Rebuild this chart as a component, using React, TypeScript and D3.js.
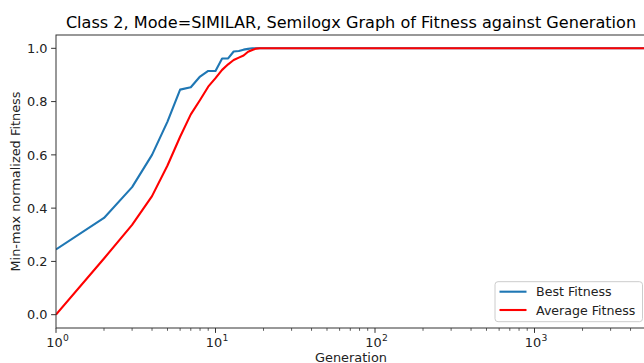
import React from "react";
import * as d3 from "d3";

// Generations sampled from the run (fitness is flat at 1.0 after gen 19 up to 5000)
const generations = [1, 2, 3, 4, 5, 6, 7, 8, 9, 10, 11, 12, 13, 14, 15, 16, 17, 18, 19, 20, 5000];
const bestFitness = [0.245, 0.363, 0.479, 0.6, 0.725, 0.845, 0.854, 0.894, 0.915, 0.915, 0.962, 0.962, 0.988, 0.99, 0.995, 0.998, 1.0, 1.0, 1.0, 1.0, 1.0];
const averageFitness = [0.0, 0.211, 0.337, 0.445, 0.56, 0.668, 0.752, 0.806, 0.856, 0.888, 0.919, 0.94, 0.956, 0.965, 0.973, 0.987, 0.994, 0.999, 1.0, 1.0, 1.0];

const yTicks = [0.0, 0.2, 0.4, 0.6, 0.8, 1.0];
const xDecades = [0, 1, 2, 3];

const W = 644;
const H = 363;
const left = 56;
const right = 646;
const top = 35;
const bottom = 328;

const FONT = "DejaVu Sans, sans-serif";
const FS = 12.9;

export default function App() {
  const x = d3.scaleLog().domain([1, 5000]).range([left, right]);
  const y = d3.scaleLinear().domain([-0.05, 1.05]).range([bottom, top]);

  const line = d3
    .line<[number, number]>()
    .x((d) => x(d[0]))
    .y((d) => y(d[1]));

  const bestPts = generations.map((g, i) => [g, bestFitness[i]] as [number, number]);
  const avgPts = generations.map((g, i) => [g, averageFitness[i]] as [number, number]);

  const minorTicks: number[] = [];
  for (let k = 0; k < 4; k++) {
    for (let m = 2; m <= 9; m++) {
      const v = m * Math.pow(10, k);
      if (v <= 5000) minorTicks.push(v);
    }
  }

  return (
    <svg
      width={W}
      height={H}
      style={{ position: "absolute", left: 0, top: 0, background: "#fff" }}
      fontFamily={FONT}
    >
      <defs>
        <clipPath id="plotArea">
          <rect x={left} y={top} width={right - left} height={bottom - top} />
        </clipPath>
      </defs>

      <text x={(left + right) / 2} y={27.5} fontSize={16.1} textAnchor="middle" fill="#000">
        Class 2, Mode=SIMILAR, Semilogx Graph of Fitness against Generation
      </text>

      {/* y axis ticks and labels */}
      {yTicks.map((t) => (
        <g key={t}>
          <line x1={left - 4.9} x2={left} y1={y(t)} y2={y(t)} stroke="#333" strokeWidth={1} />
          <text x={47.5} y={y(t) + 4.7} fontSize={FS} textAnchor="end" fill="#222">
            {t.toFixed(1)}
          </text>
        </g>
      ))}

      {/* x axis minor ticks */}
      {minorTicks.map((t) => (
        <line key={t} x1={x(t)} x2={x(t)} y1={bottom} y2={bottom + 2.8} stroke="#333" strokeWidth={0.8} />
      ))}

      {/* x axis major ticks with 10^k labels */}
      {xDecades.map((k) => {
        const px = x(Math.pow(10, k));
        return (
          <g key={k}>
            <line x1={px} x2={px} y1={bottom} y2={bottom + 4.9} stroke="#333" strokeWidth={1} />
            <text x={px - 1.5} y={347} fontSize={FS} textAnchor="middle" fill="#222">
              10
            </text>
            <text x={px + 7} y={341} fontSize={9.2} textAnchor="start" fill="#222">
              {k}
            </text>
          </g>
        );
      })}

      <text x={(left + right) / 2} y={361.5} fontSize={FS} textAnchor="middle" fill="#222">
        Generation
      </text>
      <text
        transform={`translate(19.5,${(top + bottom) / 2}) rotate(-90)`}
        fontSize={FS}
        textAnchor="middle"
        fill="#222"
      >
        Min-max normalized Fitness
      </text>

      <g clipPath="url(#plotArea)">
        <path d={line(bestPts) ?? ""} fill="none" stroke="#1f77b4" strokeWidth={2.1} strokeLinejoin="round" />
        <path d={line(avgPts) ?? ""} fill="none" stroke="#ff0000" strokeWidth={2.1} strokeLinejoin="round" />
      </g>

      {/* spines */}
      <rect x={left} y={top} width={right - left} height={bottom - top} fill="none" stroke="#333" strokeWidth={1} />

      {/* legend */}
      <g>
        <rect x={495} y={281.7} width={147.5} height={40} rx={3} fill="#fff" fillOpacity={0.8} stroke="#ccc" strokeWidth={1} />
        <line x1={499.5} x2={526.5} y1={291.7} y2={291.7} stroke="#1f77b4" strokeWidth={2.1} />
        <text x={536} y={296.2} fontSize={12.6} fill="#222">Best Fitness</text>
        <line x1={499.5} x2={526.5} y1={310} y2={310} stroke="#ff0000" strokeWidth={2.1} />
        <text x={536} y={314.5} fontSize={12.6} fill="#222">Average Fitness</text>
      </g>
    </svg>
  );
}
